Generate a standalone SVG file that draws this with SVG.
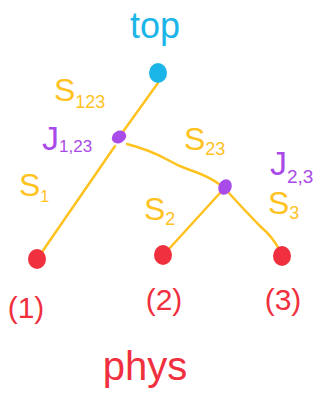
<svg xmlns="http://www.w3.org/2000/svg" width="335" height="403" viewBox="0 0 335 403">
<style>
text{font-family:"Liberation Sans","DejaVu Sans",sans-serif}
.y{fill:#FFC21F}
.p{fill:#A94BE8}
.r{fill:#F0303E}
.c{fill:#1BB5E8}
.e{stroke:#FFC21F;stroke-width:2.5;fill:none;stroke-linecap:round;stroke-linejoin:round}
</style>
<rect width="335" height="403" fill="#fff"/>
<g id="connectors">
<path class="e" d="M158,83 L122,133"/>
<path class="e" d="M115,146 L42,252"/>
<path class="e" d="M127,144 Q150,150 168,160 Q178,166 190,170 Q208,176 219,184"/>
<path class="e" d="M220,193 Q200,215 168,250"/>
<path class="e" d="M228,192 Q248,214 262,228 Q272,236 280,251"/>
</g>
<g id="top"><ellipse cx="158" cy="73" rx="9" ry="10" class="c"/><text x="155" y="38" font-size="36" text-anchor="middle" class="c">top</text></g>
<g id="j123"><ellipse cx="119" cy="137" rx="7.5" ry="6" transform="rotate(-30 119 137)" class="p"/></g>
<g id="j23"><ellipse cx="225" cy="187" rx="6.5" ry="8" transform="rotate(25 225 187)" class="p"/></g>
<g id="leaf1"><ellipse cx="37" cy="259" rx="9" ry="10" class="r"/><text x="26" y="318" font-size="30" text-anchor="middle" class="r">(1)</text></g>
<g id="leaf2"><ellipse cx="163" cy="255" rx="9" ry="10" class="r"/><text x="164" y="310" font-size="30" text-anchor="middle" class="r">(2)</text></g>
<g id="leaf3"><ellipse cx="282" cy="256" rx="9" ry="10" class="r"/><text x="283" y="310" font-size="30" text-anchor="middle" class="r">(3)</text></g>
<g id="labels">
<text x="54" y="101" font-size="32" class="y">S<tspan font-size="18" dy="7">123</tspan></text>
<text x="42" y="150" font-size="34" class="p">J<tspan font-size="17" dy="2">1,23</tspan></text>
<text x="184" y="150" font-size="32" class="y">S<tspan font-size="18" dy="5">23</tspan></text>
<text x="270" y="175" font-size="34" class="p">J<tspan font-size="19" dy="8">2,3</tspan></text>
<text x="19" y="196" font-size="32" class="y">S<tspan font-size="16" dy="6">1</tspan></text>
<text x="144" y="220" font-size="32" class="y">S<tspan font-size="18" dy="5">2</tspan></text>
<text x="268" y="214" font-size="32" class="y">S<tspan font-size="18" dy="5">3</tspan></text>
<text x="145" y="380" font-size="40" text-anchor="middle" class="r">phys</text>
</g>
</svg>
